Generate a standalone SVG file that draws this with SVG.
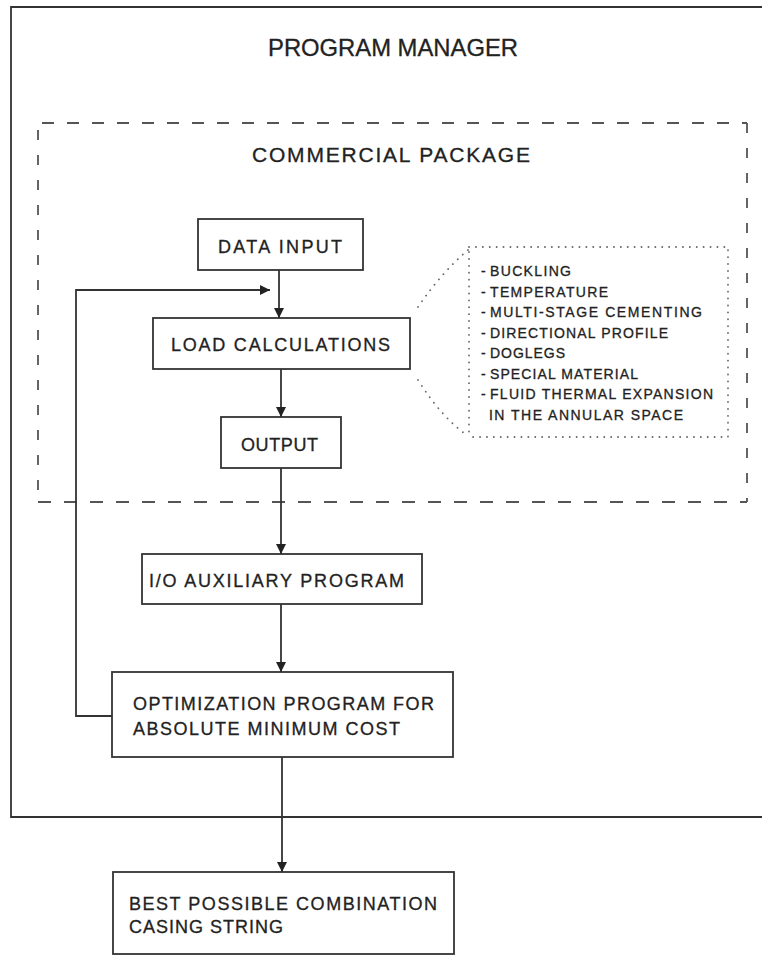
<svg xmlns="http://www.w3.org/2000/svg" width="762" height="956" viewBox="0 0 762 956">
<defs>
<style>
.box{fill:#fff;stroke:#333;stroke-width:1.8}
.t{font-family:"Liberation Sans",Arial,sans-serif;fill:#222;stroke:#222;stroke-width:0.3}
.bt{font-size:18px}
.lt{font-size:14px}
.ln{fill:none;stroke:#333;stroke-width:1.8}
.dash{fill:none;stroke:#555;stroke-width:1.8}
.dot{fill:none;stroke:#666;stroke-width:1.8;stroke-linecap:round;stroke-dasharray:0.1 6.8}
</style>
<marker id="ah" viewBox="0 0 10 10" refX="10" refY="5" markerWidth="10" markerHeight="10" markerUnits="userSpaceOnUse" orient="auto">
<path d="M0,0 L10,5 L0,10 Z" fill="#222"/>
</marker>
</defs>
<rect width="762" height="956" fill="#fff"/>

<g id="program-manager">
<path d="M762,7 H11 V817 H762" class="ln" stroke-width="2"/>
<text class="t" x="268" y="56" font-size="24" textLength="250" lengthAdjust="spacingAndGlyphs">PROGRAM MANAGER</text>
</g>

<g id="commercial-package">
<line x1="42" y1="123" x2="747" y2="123" class="dash" stroke-dasharray="12 13"/>
<line x1="38" y1="130" x2="38" y2="502" class="dash" stroke-dasharray="10 15"/>
<line x1="747" y1="123" x2="747" y2="502" class="dash" stroke-dasharray="10 15"/>
<line x1="38" y1="502" x2="747" y2="502" class="dash" stroke-dasharray="13 13"/>
<text class="t" x="252" y="162" font-size="21" textLength="278" lengthAdjust="spacing">COMMERCIAL PACKAGE</text>
</g>

<g id="data-input">
<rect x="198" y="219" width="165" height="51" class="box"/>
<text class="t bt" x="218" y="253" textLength="124" lengthAdjust="spacing">DATA  INPUT</text>
</g>

<g id="load-calculations">
<rect x="153" y="318" width="257" height="51" class="box"/>
<text class="t bt" x="171" y="351" textLength="219" lengthAdjust="spacing">LOAD  CALCULATIONS</text>
</g>

<g id="output">
<rect x="221" y="417" width="120" height="51" class="box"/>
<text class="t bt" x="241" y="451" textLength="77" lengthAdjust="spacing">OUTPUT</text>
</g>

<g id="load-factors">
<path d="M469,252 V435 M469,247 H728 V437 H469" class="dot"/>
<path d="M418,307 Q442,272 468,250" class="dot"/>
<path d="M418,380 Q442,418 468,436" class="dot"/>
<g class="t lt">
<text x="481" y="276">-</text><text x="490" y="276" textLength="81" lengthAdjust="spacing">BUCKLING</text>
<text x="481" y="297">-</text><text x="490" y="297" textLength="118" lengthAdjust="spacing">TEMPERATURE</text>
<text x="481" y="317">-</text><text x="490" y="317" textLength="212" lengthAdjust="spacing">MULTI-STAGE CEMENTING</text>
<text x="481" y="338">-</text><text x="490" y="338" textLength="178" lengthAdjust="spacing">DIRECTIONAL PROFILE</text>
<text x="481" y="358">-</text><text x="490" y="358" textLength="75" lengthAdjust="spacing">DOGLEGS</text>
<text x="481" y="379">-</text><text x="490" y="379" textLength="148" lengthAdjust="spacing">SPECIAL MATERIAL</text>
<text x="481" y="399">-</text><text x="490" y="399" textLength="223" lengthAdjust="spacing">FLUID THERMAL EXPANSION</text>
<text x="489" y="420" textLength="194" lengthAdjust="spacing">IN THE ANNULAR SPACE</text>
</g>
</g>

<g id="io-auxiliary">
<rect x="142" y="554" width="280" height="50" class="box"/>
<text class="t bt" x="149" y="587" textLength="255" lengthAdjust="spacing">I/O AUXILIARY PROGRAM</text>
</g>

<g id="optimization">
<rect x="112" y="672" width="341" height="85" class="box"/>
<text class="t bt" x="133" y="710" textLength="301" lengthAdjust="spacing">OPTIMIZATION PROGRAM FOR</text>
<text class="t bt" x="133" y="735" textLength="267" lengthAdjust="spacing">ABSOLUTE MINIMUM COST</text>
</g>

<g id="best-combination">
<rect x="113" y="872" width="341" height="82" class="box"/>
<text class="t bt" x="129" y="910" textLength="308" lengthAdjust="spacing">BEST POSSIBLE COMBINATION</text>
<text class="t bt" x="129" y="933" textLength="154" lengthAdjust="spacing">CASING STRING</text>
</g>

<g id="connectors">
<line x1="279" y1="270" x2="279" y2="318" class="ln" marker-end="url(#ah)"/>
<path d="M112,716 H76 V290 H270" class="ln" marker-end="url(#ah)"/>
<line x1="281" y1="369" x2="281" y2="417" class="ln" marker-end="url(#ah)"/>
<line x1="281" y1="468" x2="281" y2="554" class="ln" marker-end="url(#ah)"/>
<line x1="281" y1="604" x2="281" y2="672" class="ln" marker-end="url(#ah)"/>
<line x1="282" y1="757" x2="282" y2="872" class="ln" marker-end="url(#ah)"/>
</g>
</svg>
